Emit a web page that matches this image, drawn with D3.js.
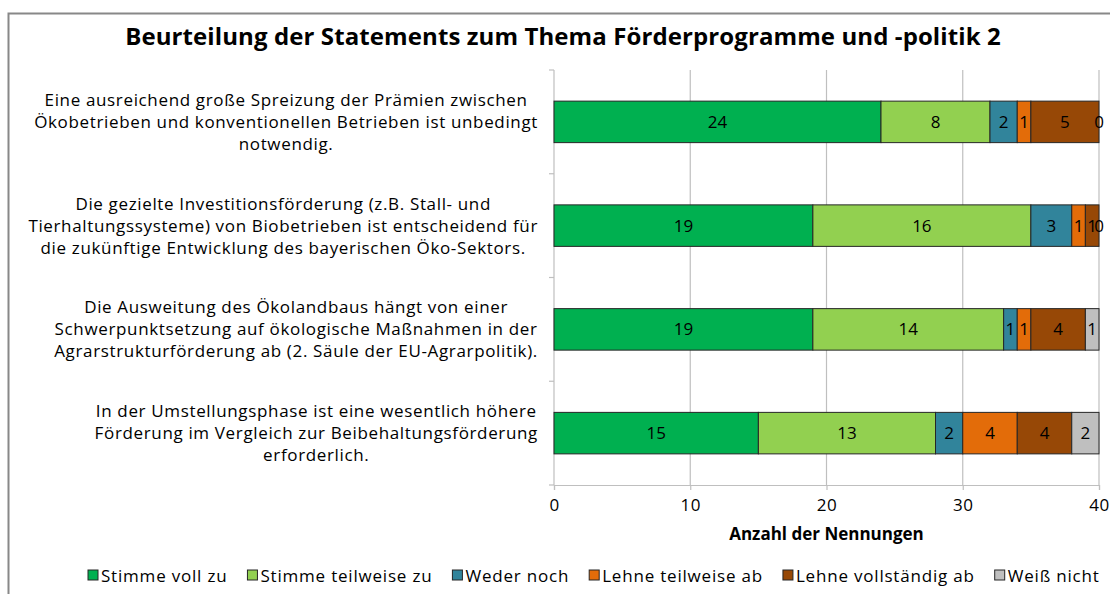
<!DOCTYPE html>
<html>
<head>
<meta charset="utf-8">
<script src="https://cdn.jsdelivr.net/npm/d3@7"></script>
<style>
  html, body { margin: 0; padding: 0; background: #fff; }
  svg { display: block; font-family: "Open Sans", Lato, sans-serif; }
</style>
</head>
<body>
<svg id="chart" width="1110" height="594"></svg>
<script>
// Statements (one row each), split into display lines
const statements = [
  ["Eine ausreichend große Spreizung der Prämien zwischen",
   "Ökobetrieben und konventionellen Betrieben ist unbedingt",
   "notwendig."],
  ["Die gezielte Investitionsförderung (z.B. Stall- und",
   "Tierhaltungssysteme) von Biobetrieben ist entscheidend für",
   "die zukünftige Entwicklung des bayerischen Öko-Sektors."],
  ["Die Ausweitung des Ökolandbaus hängt von einer",
   "Schwerpunktsetzung auf ökologische Maßnahmen in der",
   "Agrarstrukturförderung ab (2. Säule der EU-Agrarpolitik)."],
  ["In der Umstellungsphase ist eine wesentlich höhere",
   "Förderung im Vergleich zur Beibehaltungsförderung",
   "erforderlich."]
];

// Answer categories
const answers = ["Stimme voll zu", "Stimme teilweise zu", "Weder noch",
                 "Lehne teilweise ab", "Lehne vollständig ab", "Weiß nicht"];
const answerColors = ["#00B050", "#92D050", "#31849B", "#E36C09", "#974806", "#BFBFBF"];

// Number of mentions per answer category, one value per statement
const stimmeVoll      = [24, 19, 19, 15];
const stimmeTeilweise = [8, 16, 14, 13];
const wederNoch       = [2, 3, 1, 2];
const lehneTeilweise  = [1, 1, 1, 4];
const lehneVoll       = [5, 1, 4, 4];
const weissNicht      = [0, 0, 1, 2];

const xTicks = [0, 10, 20, 30, 40];
const titleText = "Beurteilung der Statements zum Thema Förderprogramme und -politik 2";
const xAxisTitle = "Anzahl der Nennungen";

const seriesValues = [stimmeVoll, stimmeTeilweise, wederNoch, lehneTeilweise, lehneVoll, weissNicht];

// Build a table: one record per statement
const table = statements.map((s, i) => {
  const rec = { id: i };
  answers.forEach((a, j) => { rec[a] = seriesValues[j][i]; });
  return rec;
});

const FONT = "'Open Sans', Lato, sans-serif";
const svg = d3.select("#chart");

// Outer chart frame
svg.append("rect")
  .attr("x", 8.5).attr("y", 13.5)
  .attr("width", 1120).attr("height", 600)
  .attr("fill", "#fff")
  .attr("stroke", "#888").attr("stroke-width", 2);

// Title
svg.append("text")
  .attr("x", 563).attr("y", 45)
  .attr("text-anchor", "middle")
  .attr("font-size", 24).attr("font-weight", "bold")
  .attr("letter-spacing", 0.1)
  .attr("fill", "#000")
  .text(titleText);

const plot = { left: 554, right: 1099, top: 70, bottom: 485 };

const x = d3.scaleLinear().domain([0, 40]).range([plot.left, plot.right]);
const y = d3.scaleBand().domain(d3.range(statements.length))
  .range([plot.top, plot.bottom]).paddingInner(0.6).paddingOuter(0.3);
const yBand = d3.scaleBand().domain(d3.range(statements.length))
  .range([plot.top, plot.bottom]);

// Vertical gridlines
svg.append("g").selectAll("line")
  .data(xTicks.filter(t => t > 0))
  .join("line")
  .attr("x1", d => x(d)).attr("x2", d => x(d))
  .attr("y1", plot.top).attr("y2", plot.bottom)
  .attr("stroke", "#BFBFBF").attr("stroke-width", 1.2);

// X axis
const xAxis = svg.append("g")
  .attr("transform", `translate(0,${plot.bottom})`)
  .call(d3.axisBottom(x).tickValues(xTicks).tickSize(5).tickPadding(9));
xAxis.select(".domain").attr("stroke", "#BFBFBF").attr("stroke-width", 1.2);
xAxis.selectAll(".tick line").attr("stroke", "#BFBFBF").attr("stroke-width", 1.2);
xAxis.selectAll(".tick text")
  .attr("font-size", 17).attr("fill", "#000")
  .attr("letter-spacing", 0.5)
  .attr("font-family", FONT);

// Category axis: line with ticks on band boundaries
const boundaries = d3.range(statements.length + 1).map(i => plot.top + i * yBand.bandwidth());
svg.append("line")
  .attr("x1", plot.left).attr("x2", plot.left)
  .attr("y1", plot.top).attr("y2", plot.bottom)
  .attr("stroke", "#BFBFBF").attr("stroke-width", 1.2);
svg.append("g").selectAll("line")
  .data(boundaries)
  .join("line")
  .attr("x1", plot.left - 5).attr("x2", plot.left)
  .attr("y1", d => d).attr("y2", d => d)
  .attr("stroke", "#BFBFBF").attr("stroke-width", 1.2);

// Stacked bars
const stack = d3.stack().keys(answers);
const stacked = stack(table);
const color = d3.scaleOrdinal().domain(answers).range(answerColors);

const layers = svg.append("g").selectAll("g")
  .data(stacked)
  .join("g")
  .attr("fill", d => color(d.key));

layers.selectAll("rect")
  .data(d => d)
  .join("rect")
  .attr("x", d => x(d[0]))
  .attr("y", (d, i) => y(i))
  .attr("width", d => x(d[1]) - x(d[0]))
  .attr("height", y.bandwidth())
  .attr("stroke", "#262626").attr("stroke-width", 1);

// Value labels
const labels = svg.append("g");
stacked.forEach(layer => {
  layer.forEach((d, i) => {
    labels.append("text")
      .attr("x", x((d[0] + d[1]) / 2))
      .attr("y", y(i) + y.bandwidth() / 2)
      .attr("dy", "0.35em")
      .attr("text-anchor", "middle")
      .attr("font-size", 17).attr("fill", "#000")
      .text(d[1] - d[0]);
  });
});

// Category labels: each block centred, blocks right-aligned to the axis
const labelRight = 538;
const lineH = 22;
statements.forEach((lines, i) => {
  const g = svg.append("g");
  const texts = lines.map(l => g.append("text")
    .attr("font-size", 17).attr("letter-spacing", 0.65)
    .attr("fill", "#000").text(l));
  const maxW = d3.max(texts, t => t.node().getComputedTextLength());
  const cx = labelRight - maxW / 2;
  const cy = yBand(i) + yBand.bandwidth() / 2;
  texts.forEach((t, k) => {
    t.attr("x", cx).attr("text-anchor", "middle")
     .attr("y", cy + (k - (lines.length - 1) / 2) * lineH)
     .attr("dy", "0.35em");
  });
});

// X axis title
svg.append("text")
  .attr("x", (plot.left + plot.right) / 2).attr("y", 540)
  .attr("text-anchor", "middle")
  .attr("font-size", 17).attr("font-weight", "bold")
  .text(xAxisTitle);

// Legend
const legend = svg.append("g");
let lx = 88;
const ly = 576;
answers.forEach((a, j) => {
  legend.append("rect")
    .attr("x", lx).attr("y", ly - 6)
    .attr("width", 10).attr("height", 10)
    .attr("fill", answerColors[j]).attr("stroke", "#262626").attr("stroke-width", 1);
  const t = legend.append("text")
    .attr("x", lx + 13).attr("y", ly).attr("dy", "0.35em")
    .attr("font-size", 17).attr("letter-spacing", 0.8).text(a);
  lx += 13 + t.node().getComputedTextLength() + 20;
});
</script>
</body>
</html>
